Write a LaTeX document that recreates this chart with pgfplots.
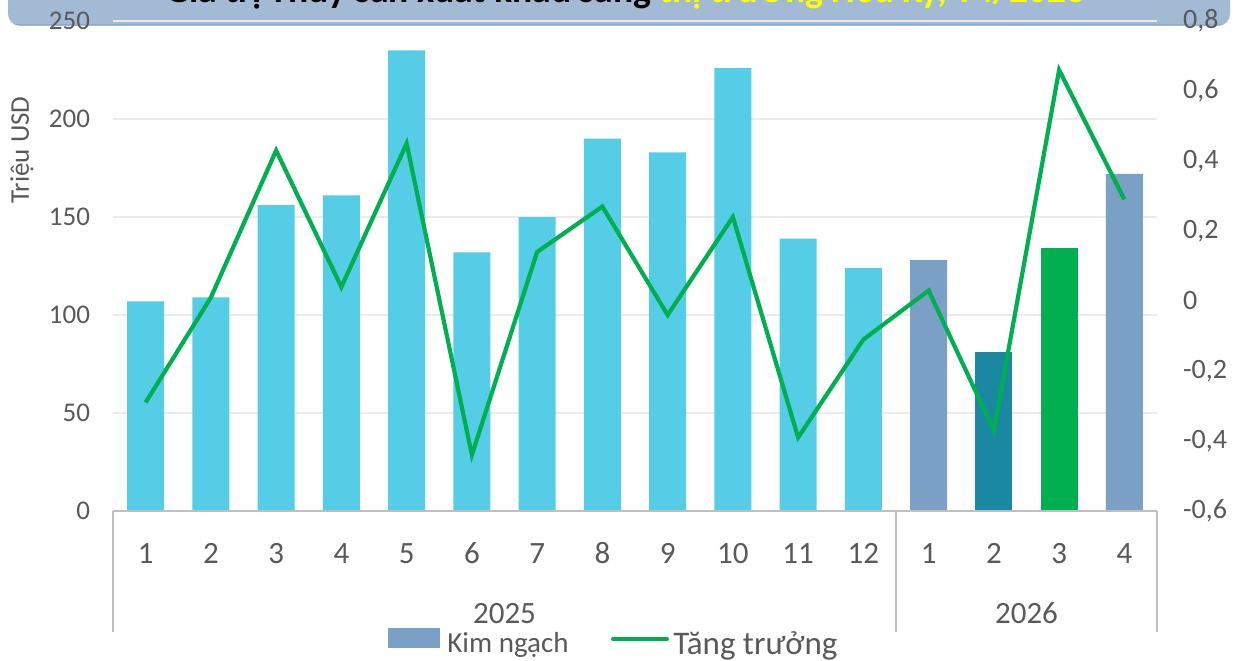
\documentclass[border=0pt]{standalone}
\usepackage{fontspec}
\setmainfont{Carlito}
\usepackage{pgfplots}
\pgfplotsset{compat=1.18}
\definecolor{cyanbar}{HTML}{56CDE6}
\definecolor{steelbar}{HTML}{7BA0C5}
\definecolor{tealbar}{HTML}{1A88A2}
\definecolor{greenbar}{HTML}{00B050}
\definecolor{lineg}{HTML}{00B050}
\definecolor{banner}{HTML}{A3BAD4}
\definecolor{bannerdk}{HTML}{93ABC8}
\definecolor{txt}{HTML}{595959}
\definecolor{gridc}{HTML}{EBEBEB}
\definecolor{axc}{HTML}{BFBFBF}
\definecolor{ttlyellow}{HTML}{FFFF00}

\begin{document}
\begin{tikzpicture}
\useasboundingbox (0,0) rectangle (619.5pt,330pt);
\fill[banner, rounded corners=6pt] (4pt,317pt) rectangle (615pt,350pt);
\draw[bannerdk, line width=0.8pt] (8pt,317.8pt) -- (611pt,317.8pt);
\node[anchor=base, inner sep=0pt] at (312.75pt,328.5pt) {\fontsize{18.8pt}{22pt}\selectfont\bfseries Giá trị Thủy sản xuất khẩu sang \textcolor{ttlyellow}{thị trường Hoa Kỳ, T4/2026}};

\node[rotate=90, text=txt, font=\fontsize{13.5pt}{16pt}\selectfont] at (11pt,255pt) {Triệu USD};

\begin{axis}[
 at={(56.5pt,74.5pt)}, anchor=south west,
 scale only axis, width=522pt, height=245pt,
 xmin=-0.5, xmax=15.5, ymin=0, ymax=250,
 ytick={0,50,100,150,200,250}, xtick={0,...,15},
 xticklabels={1,2,3,4,5,6,7,8,9,10,11,12,1,2,3,4},
 ymajorgrids, grid style={gridc, line width=1pt},
 axis line style={draw=none}, major tick length=0pt,
 tick label style={font=\fontsize{13.5pt}{16pt}\selectfont, text=txt},
 xticklabel style={font=\fontsize{15.5pt}{18pt}\selectfont, anchor=base, yshift=-26pt},
 yticklabel style={anchor=east, xshift=-8pt},
 /pgf/number format/assume math mode=true,
 ybar, bar width=18.5pt,
 clip=false,
]
\addplot[fill=cyanbar, draw=none, bar shift=0pt] coordinates {(0,107) (1,109) (2,156) (3,161) (4,235) (5,132) (6,150) (7,190) (8,183) (9,226) (10,139) (11,124)};
\addplot[fill=steelbar, draw=none, bar shift=0pt] coordinates {(12,128) (15,172)};
\addplot[fill=tealbar, draw=none, bar shift=0pt] coordinates {(13,81)};
\addplot[fill=greenbar, draw=none, bar shift=0pt] coordinates {(14,134)};
\draw[axc, line width=1pt] (axis cs:-0.5,0) -- (axis cs:15.5,0);
\draw[axc, line width=1pt] (axis cs:-0.5,0) -- ++(0pt,-60.5pt);
\draw[axc, line width=1pt] (axis cs:11.5,0) -- ++(0pt,-60.5pt);
\draw[axc, line width=1pt] (axis cs:15.5,0) -- ++(0pt,-60.5pt);
\node[anchor=base, text=txt, font=\fontsize{15.5pt}{18pt}\selectfont, yshift=-56pt] at (axis cs:5.5,0) {2025};
\node[anchor=base, text=txt, font=\fontsize{15.5pt}{18pt}\selectfont, yshift=-56pt] at (axis cs:13.5,0) {2026};
\end{axis}

\begin{axis}[
 at={(56.5pt,74.5pt)}, anchor=south west,
 scale only axis, width=522pt, height=245pt,
 xmin=-0.5, xmax=15.5, ymin=-0.6, ymax=0.8,
 ytick={-0.6,-0.4,-0.2,0,0.2,0.4,0.6,0.8},
 axis y line*=right, axis x line=none,
 axis line style={draw=none}, major tick length=0pt,
 tick label style={font=\fontsize{14pt}{16pt}\selectfont, text=txt},
 yticklabel style={anchor=west, xshift=9.5pt},
 /pgf/number format/.cd, use comma, fixed, precision=1, assume math mode=true,
]
\addplot[lineg, line width=2.1pt, no marks] coordinates {(0,-0.29) (1,0.01) (2,0.43) (3,0.04) (4,0.45) (5,-0.44) (6,0.14) (7,0.27) (8,-0.04) (9,0.24) (10,-0.39) (11,-0.11) (12,0.03) (13,-0.37) (14,0.66) (15,0.29)};
\end{axis}

\fill[steelbar] (194pt,6pt) rectangle (220pt,16pt);
\node[anchor=base west, inner sep=0pt, text=txt, font=\fontsize{14.5pt}{17pt}\selectfont] at (223.5pt,4pt) {Kim ngạch};
\draw[lineg, line width=2pt, line cap=round] (306.5pt,10.5pt) -- (333.5pt,10.5pt);
\node[anchor=base west, inner sep=0pt, text=txt, font=\fontsize{16.5pt}{19pt}\selectfont] at (336.5pt,3pt) {Tăng trưởng};
\end{tikzpicture}
\end{document}
